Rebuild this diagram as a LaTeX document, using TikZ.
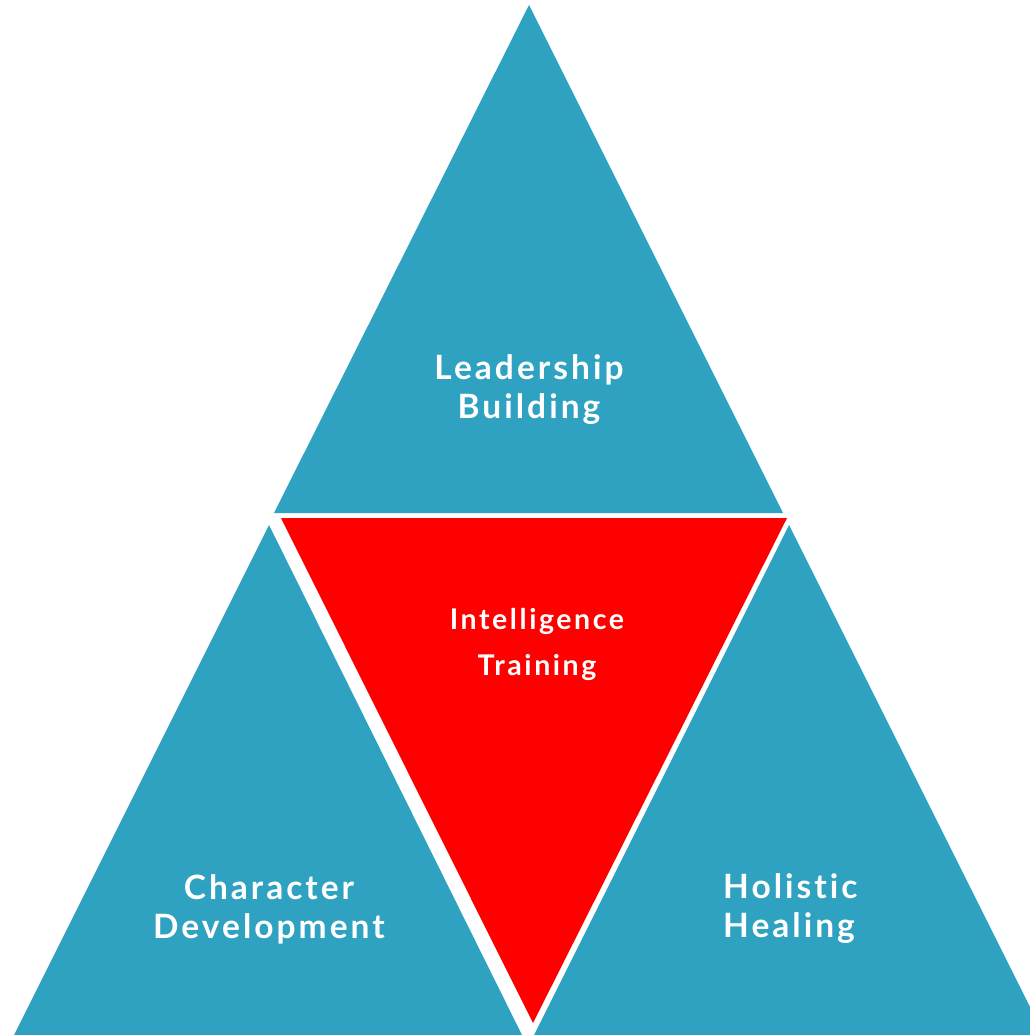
\documentclass[tikz,border=0pt]{standalone}
\usepackage{fontspec}
\setmainfont{Lato}[LetterSpace=9,Ligatures={NoCommon}]
\definecolor{tealblue}{RGB}{46,162,192}
\definecolor{pyred}{RGB}{255,0,0}
\begin{document}
\begin{tikzpicture}[x=1pt,y=-1pt,
  lbl/.style={text=white,font=\bfseries\fontsize{33.5}{39}\selectfont,inner sep=0pt},
  lblsmall/.style={text=white,font=\bfseries\fontsize{28.5}{46}\selectfont,inner sep=0pt}]
\useasboundingbox (0,0) rectangle (1029,1035);
\fill[tealblue] (529,5) -- (274,513) -- (783,513) -- cycle;
\fill[tealblue] (269,525) -- (14,1035) -- (522,1035) -- cycle;
\fill[tealblue] (789,525) -- (534,1035) -- (1044,1035) -- cycle;
\fill[pyred] (281,518) -- (787,518) -- (533,1023) -- cycle;
\node[lbl,align=center] (lb) at (529,390) {Leadership\\Building};
\node[lbl,align=center] (cd) at (269,909) {Character\\Development};
\node[lbl,align=left,anchor=west] (hh) at (723,909) {Holistic\\Healing};
\node[lblsmall,align=center] (it) at (537,644) {Intelligence\\Training};
\end{tikzpicture}
\end{document}
